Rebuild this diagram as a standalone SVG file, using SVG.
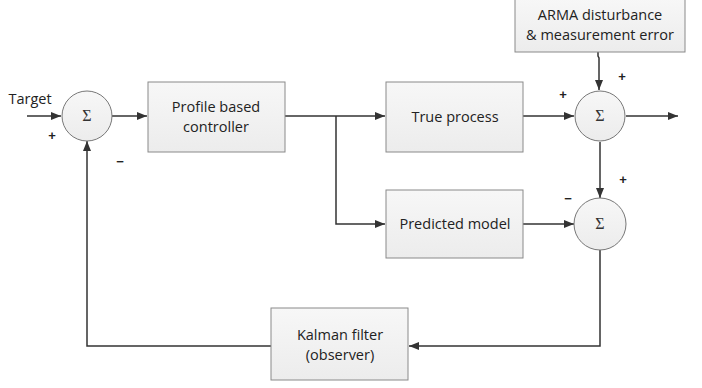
<svg xmlns="http://www.w3.org/2000/svg" width="702" height="388" viewBox="0 0 702 388">
<defs>
<linearGradient id="g" x1="0" y1="0" x2="0" y2="1"><stop offset="0" stop-color="#f7f7f7"/><stop offset="1" stop-color="#ececec"/></linearGradient>
<marker id="a" markerWidth="10" markerHeight="8" refX="10" refY="4" orient="auto" markerUnits="userSpaceOnUse"><path d="M0,0 L10,4 L0,8 z" fill="#333"/></marker>
</defs>
<style>
.box{fill:url(#g);stroke:#8a8a8a;stroke-width:1}
.sum{fill:url(#g);stroke:#777;stroke-width:1}
.t{font-family:"Open Sans","Liberation Sans",sans-serif;font-size:14.5px;fill:#222;text-anchor:middle}
.s{font-family:"Liberation Serif",serif;font-size:16px;fill:#333;text-anchor:middle}
.sg{font-family:"Liberation Sans",sans-serif;font-size:13px;font-weight:bold;fill:#222;text-anchor:middle}
.c{fill:none;stroke:#333;stroke-width:1.5}
</style>
<rect width="702" height="388" fill="#fff"/>
<g id="connectors">
<path class="c" d="M27,116 H61" marker-end="url(#a)"/>
<path class="c" d="M112,116 H147" marker-end="url(#a)"/>
<path class="c" d="M285,116 H385" marker-end="url(#a)"/>
<path class="c" d="M336,116 V224 H385" marker-end="url(#a)"/>
<path class="c" d="M523,116 H574" marker-end="url(#a)"/>
<path class="c" d="M598,52 V56 L599,58 V90" marker-end="url(#a)"/>
<path class="c" d="M626,116 H678" marker-end="url(#a)"/>
<path class="c" d="M600,142 V198" marker-end="url(#a)"/>
<path class="c" d="M523,224 H574" marker-end="url(#a)"/>
<path class="c" d="M600,250 V346 H409" marker-end="url(#a)"/>
<path class="c" d="M271,346 H87 V141" marker-end="url(#a)"/>
</g>
<g id="target"><text x="30" y="104" class="t" font-size="12">Target</text></g>
<g id="sum1"><circle class="sum" cx="87" cy="116" r="25"/><text x="87" y="121" class="s">Σ</text>
<text x="52" y="140" class="sg">+</text><text x="120" y="166" class="sg">−</text></g>
<g id="controller"><rect class="box" x="148" y="82" width="137" height="70"/><text x="216" y="112" class="t">Profile based</text><text x="216" y="132" class="t">controller</text></g>
<g id="true"><rect class="box" x="386" y="82" width="137" height="70"/><text x="455" y="122" class="t">True process</text></g>
<g id="pred"><rect class="box" x="386" y="190" width="137" height="68"/><text x="455" y="229" class="t">Predicted model</text></g>
<g id="arma"><rect class="box" x="515" y="-1" width="170" height="53"/><text x="600" y="20" class="t">ARMA disturbance</text><text x="600" y="40" class="t">&amp; measurement error</text></g>
<g id="sum2"><circle class="sum" cx="600" cy="116" r="25"/><text x="600" y="121" class="s">Σ</text>
<text x="563" y="99" class="sg">+</text><text x="622" y="81" class="sg">+</text></g>
<g id="sum3"><circle class="sum" cx="600" cy="224" r="26"/><text x="600" y="229" class="s">Σ</text>
<text x="623" y="184" class="sg">+</text><text x="568" y="203" class="sg">−</text></g>
<g id="kalman"><rect class="box" x="271" y="308" width="137" height="72"/><text x="340" y="340" class="t">Kalman filter</text><text x="340" y="360" class="t">(observer)</text></g>
</svg>
